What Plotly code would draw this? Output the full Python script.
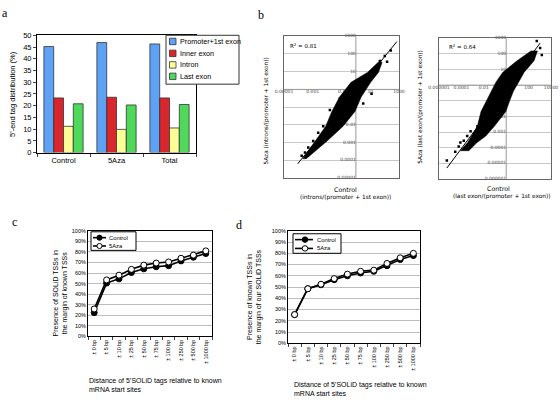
import plotly.graph_objects as go

W, H = 560, 403
def px(x): return x / W
def py(y): return 1 - y / H

# ---------------- Panel a data ----------------
groups = ["Control", "5Aza", "Total"]
segments = ["Promoter+1st exon", "Inner exon", "Intron", "Last exon"]
seg_colors = ["#5ea2f5", "#d9262c", "#fdfd98", "#4fd85a"]
dist_promoter = [45.2, 46.9, 46.3]
dist_inner = [23.3, 23.6, 23.3]
dist_intron = [11.2, 9.9, 10.5]
dist_last = [20.8, 20.3, 20.5]
dist_values = [dist_promoter, dist_inner, dist_intron, dist_last]

# ---------------- Panel b data (log10 values) ----------------
# outline of the dense point cloud (left edge upward, then right edge downward)
intron_cloud_lx = [-3.70, -3.30, -2.87, -2.10, -1.67, -1.14, -0.34, 0.80, 1.52, 1.70,
                   1.82, 1.57, 1.03, 0.37, -0.06, -0.89, -2.00, -2.81, -3.45]
intron_cloud_ly = [-3.91, -3.46, -2.91, -2.08, -1.25, -0.43, 0.40, 0.96, 1.51, 1.62,
                   1.51, 0.96, 0.40, -0.43, -1.25, -2.08, -2.91, -3.46, -3.91]
intron_pts_lx = [2.43, 2.01, 1.67, 2.17, 1.44, -2.97, -3.31, -3.54, -3.77, -3.08, -2.27, -2.62, 0.51, 1.09, -1.81, -1.11]
intron_pts_ly = [2.19, 1.88, 1.60, 1.56, 1.27, -2.91, -3.28, -3.56, -3.74, -3.37, -2.08, -2.45, -0.80, -0.24, -1.16, -0.52]
intron_fit_lx = [-4.05, 2.85]
intron_fit_ly = [-4.20, 2.70]
intron_r2 = "0.81"

last_cloud_lx = [-4.10, -3.46, -3.09, -2.58, -2.25, -1.82, -1.38, -0.92, -0.32, 0.97, 2.21,
                 2.79, 2.49, 1.59, 1.11, 0.65, 0.28, -0.03, -1.06, -1.82, -2.63, -3.34]
last_cloud_ly = [-4.19, -3.69, -3.25, -2.63, -1.69, -1.06, -0.38, 0.19, 0.81, 1.56, 2.19,
                 2.19, 1.56, 0.81, 0.19, -0.38, -1.06, -1.69, -2.63, -3.25, -3.69, -4.19]
last_pts_lx = [2.73, 3.03, 3.18, -3.79, -4.24, -4.55, -5.30, -3.48, -3.18, -4.09, -2.57, -0.75]
last_pts_ly = [2.83, 2.375, 1.92, -3.56, -3.92, -4.25, -4.81, -3.25, -2.94, -3.67, -2.625, -0.85]
last_fit_lx = [-5.30, 3.03]
last_fit_ly = [-5.30, 2.69]
last_r2 = "0.64"

# tick labels of the scatter plots
intron_xticks = [-5, -3, -1, 1, 3]
intron_xtext = ["0.00001", "0.001", "0.1", "10", "1000"]
intron_yticks = [3, 2, 1, -1, -2, -3, -4, -5]
intron_ytext = ["1000", "100", "10", "0.1", "0.01", "0.001", "0.0001", "0.00001"]
last_xticks = [-6, -4, -2, 2, 4]
last_xtext = ["0.000001", "0.0001", "0.01", "100", "10000"]
last_yticks = [3, 2, 1, -1, -2, -3, -4, -5, -6]
last_ytext = ["1000", "100", "10", "0.1", "0.01", "0.001", "0.0001", "0.00001", "0.000001"]

# ---------------- Panels c / d data ----------------
distances = ["± 0 bp", "± 5 bp", "± 10 bp", "± 25 bp", "± 50 bp", "± 75 bp",
             "± 100 bp", "± 250 bp", "± 500 bp", "± 1000 bp"]
c_control = [22.5, 50.5, 54.5, 60.5, 64.0, 66.0, 67.0, 71.5, 75.0, 78.5]
c_5aza = [26.0, 53.5, 58.0, 63.5, 67.5, 69.5, 70.5, 74.0, 77.0, 81.0]
d_control = [25.5, 48.5, 52.0, 56.5, 60.0, 62.5, 64.0, 69.0, 74.5, 78.0]
d_5aza = [25.5, 48.5, 52.5, 57.5, 61.5, 64.0, 65.0, 71.0, 76.0, 80.0]
series_names = ["Control", "5Aza"]

ARIAL = "Liberation Sans, Arial, sans-serif"
NARROW = "Liberation Sans Narrow, Arial Narrow, Liberation Sans, sans-serif"
GOTH = "DejaVu Sans, sans-serif"
SERIF = "Liberation Serif, Times New Roman, serif"

fig = go.Figure()

# ---- panel a bars
for name, col, vals in zip(segments, seg_colors, dist_values):
    fig.add_trace(go.Bar(x=groups, y=vals, name=name, marker_color=col,
                         marker_line=dict(color="#333333", width=0.8),
                         xaxis="x", yaxis="y", showlegend=False))

# ---- scatter panels
def p10(lst):
    return [10 ** v for v in lst]

def add_scatter(ax, ay, xr, yr, xt, xtt, yt, ytt, clx, cly, plx, ply, flx, fly):
    fig.add_trace(go.Scatter(x=p10(xt), y=[1] * len(xt), mode="text", text=xtt,
                             textposition="bottom center",
                             textfont=dict(size=4.5, color="#444", family=GOTH),
                             xaxis=ax, yaxis=ay, showlegend=False, cliponaxis=False, hoverinfo="skip"))
    fig.add_trace(go.Scatter(x=[1] * len(yt), y=p10(yt), mode="text", text=ytt,
                             textposition="middle left",
                             textfont=dict(size=4.5, color="#444", family=GOTH),
                             xaxis=ax, yaxis=ay, showlegend=False, cliponaxis=False, hoverinfo="skip"))
    fig.add_trace(go.Scatter(x=[1, 1], y=[10 ** yr[0], 10 ** yr[1]], mode="lines",
                             line=dict(color="#999999", width=1), xaxis=ax, yaxis=ay,
                             showlegend=False, hoverinfo="skip"))
    fig.add_trace(go.Scatter(x=[10 ** xr[0], 10 ** xr[1]], y=[1, 1], mode="lines",
                             line=dict(color="#999999", width=1), xaxis=ax, yaxis=ay,
                             showlegend=False, hoverinfo="skip"))
    fig.add_trace(go.Scatter(x=p10(clx + clx[:1]), y=p10(cly + cly[:1]), mode="lines",
                             fill="toself", fillcolor="black", line=dict(color="black", width=0.5),
                             xaxis=ax, yaxis=ay, showlegend=False, hoverinfo="skip"))
    fig.add_trace(go.Scatter(x=p10(plx), y=p10(ply), mode="markers",
                             marker=dict(color="black", size=2.5, symbol="square"),
                             xaxis=ax, yaxis=ay, showlegend=False))
    fig.add_trace(go.Scatter(x=p10(flx), y=p10(fly), mode="lines",
                             line=dict(color="black", width=1),
                             xaxis=ax, yaxis=ay, showlegend=False))

add_scatter("x2", "y2", [-5, 3], [-5, 3], intron_xticks, intron_xtext, intron_yticks, intron_ytext,
            intron_cloud_lx, intron_cloud_ly, intron_pts_lx, intron_pts_ly, intron_fit_lx, intron_fit_ly)
add_scatter("x3", "y3", [-6, 4], [-6, 3], last_xticks, last_xtext, last_yticks, last_ytext,
            last_cloud_lx, last_cloud_ly, last_pts_lx, last_pts_ly, last_fit_lx, last_fit_ly)

# ---- panels c / d lines
for ax, ay, ctrl, aza in [("x4", "y4", c_control, c_5aza), ("x5", "y5", d_control, d_5aza)]:
    fig.add_trace(go.Scatter(x=distances, y=ctrl, name=series_names[0], mode="lines+markers",
                             line=dict(color="black", width=1.6),
                             marker=dict(color="black", size=6, line=dict(color="black", width=1)),
                             xaxis=ax, yaxis=ay, showlegend=False, cliponaxis=False))
    fig.add_trace(go.Scatter(x=distances, y=aza, name=series_names[1], mode="lines+markers",
                             line=dict(color="black", width=1.6),
                             marker=dict(color="white", size=6, line=dict(color="black", width=1)),
                             xaxis=ax, yaxis=ay, showlegend=False, cliponaxis=False))

frame = dict(showline=True, linecolor="black", linewidth=1, mirror=True)

layout = dict(
    width=W, height=H, margin=dict(l=0, r=0, t=0, b=0),
    paper_bgcolor="white", plot_bgcolor="white", showlegend=False,
    barmode="group", bargap=0.26, bargroupgap=0,
    font=dict(family=ARIAL, color="black"),
    xaxis=dict(domain=[px(37), px(196)], anchor="y", tickfont=dict(size=7.5, family=ARIAL),
               ticks="outside", ticklen=3, tickson="boundaries", **frame),
    yaxis=dict(domain=[py(152), py(32)], anchor="x", range=[0, 50], dtick=5,
               tickfont=dict(size=7.5, family=ARIAL), ticks="outside", ticklen=3,
               showgrid=False, **frame),
    xaxis2=dict(domain=[px(284), px(399)], anchor="y2", type="log", range=[-5, 3],
                showticklabels=False, showgrid=False, showline=True, mirror=True,
                linecolor="#666666", linewidth=1),
    yaxis2=dict(domain=[py(178), py(33)], anchor="x2", type="log", range=[-5, 3], dtick=1,
                showticklabels=False, showgrid=True, gridcolor="#c8c8c8", gridwidth=1,
                showline=True, mirror=True, linecolor="#666666", linewidth=1),
    xaxis3=dict(domain=[px(439), px(551)], anchor="y3", type="log", range=[-6, 4],
                showticklabels=False, showgrid=False, showline=True, mirror=True,
                linecolor="#666666", linewidth=1),
    yaxis3=dict(domain=[py(179), py(35)], anchor="x3", type="log", range=[-6, 3], dtick=1,
                showticklabels=False, showgrid=True, gridcolor="#c8c8c8", gridwidth=1,
                showline=True, mirror=True, linecolor="#666666", linewidth=1),
    xaxis4=dict(domain=[px(88), px(212)], anchor="y4", range=[-0.5, 9.5], tickangle=-90,
                tickfont=dict(size=5.5, family=NARROW), ticks="outside", ticklen=3,
                tickson="boundaries", **frame),
    yaxis4=dict(domain=[py(340), py(232)], anchor="x4", range=[0, 100], dtick=10, ticksuffix="%",
                tickfont=dict(size=5.5, family=ARIAL), showgrid=True, gridcolor="#bdbdbd",
                ticks="", **frame),
    xaxis5=dict(domain=[px(288), px(420)], anchor="y5", range=[-0.5, 9.5], tickangle=-90,
                tickfont=dict(size=5.5, family=NARROW), ticks="outside", ticklen=3,
                tickson="boundaries", **frame),
    yaxis5=dict(domain=[py(347), py(232)], anchor="x5", range=[0, 100], dtick=10, ticksuffix="%",
                tickfont=dict(size=5.5, family=ARIAL), showgrid=True, gridcolor="#bdbdbd",
                ticks="", **frame),
)
fig.update_layout(**layout)

ann = []
shapes = []
def text(x, y, s, size, family=ARIAL, angle=0, xanchor="center", yanchor="middle", align="center"):
    ann.append(dict(x=px(x), y=py(y), xref="paper", yref="paper", text=s, showarrow=False,
                    font=dict(size=size, family=family, color="black"), textangle=angle,
                    xanchor=xanchor, yanchor=yanchor, align=align))

# panel letters
text(5, 9, "a", 12, SERIF)
text(261, 11, "b", 12, SERIF)
text(14, 223, "c", 12, SERIF)
text(239, 226, "d", 12, SERIF)

# panel a titles and legend
text(13, 92, "5'-end tag distribution (%)", 7.5, ARIAL, angle=-90)
shapes.append(dict(type="rect", xref="paper", yref="paper", x0=px(166), x1=px(239), y0=py(82), y1=py(32),
                   line=dict(color="#333333", width=1), fillcolor="white", layer="above"))
row_y = [38.3, 50.5, 62.3, 74]
for name, col, yy in zip(segments, seg_colors, row_y):
    shapes.append(dict(type="rect", xref="paper", yref="paper", x0=px(169.5), x1=px(176), y0=py(yy + 3.3),
                       y1=py(yy - 3.3), line=dict(color="#333333", width=0.8), fillcolor=col, layer="above"))
    text(177.5, yy, name, 7.2, ARIAL, xanchor="left")

# scatter titles
text(267, 110, "5Aza (introns/(promoter + 1st exon))", 5.8, GOTH, angle=-90)
text(345, 190, "Control", 6.3, GOTH)
text(345, 197.5, "(introns/(promoter + 1st exon))", 5.8, GOTH)
text(288, 42, "R<sup>2</sup> = " + intron_r2, 5.5, GOTH, xanchor="left")
text(421, 105, "5Aza (last exon/(promoter + 1st exon))", 5.8, GOTH, angle=-90)
text(498, 188.5, "Control", 6.3, GOTH)
text(501, 196.5, "(last exon/(promoter + 1st exon))", 5.8, GOTH)
text(447, 43, "R<sup>2</sup> = " + last_r2, 5.5, GOTH, xanchor="left")

# panel c / d axis titles
text(60, 296, "Presence of SOLiD TSSs in<br>the margin of known TSSs", 7, NARROW, angle=-90)
text(87, 389.5, "Distance of 5’SOLiD tags relative to known<br>mRNA start sites", 7, NARROW,
     xanchor="left", align="left")
text(254, 300, "Presence of known TSSs in<br>the margin of our SOLiD TSSs", 7, NARROW, angle=-90)
text(292, 393.5, "Distance of 5’SOLiD tags relative to known<br>mRNA start sites", 7, NARROW,
     xanchor="left", align="left")

def line_legend(bx0, bx1, by0, by1, rows, lx0, lx1, mx, tx, r):
    shapes.append(dict(type="rect", xref="paper", yref="paper", x0=px(bx0), x1=px(bx1), y0=py(by1),
                       y1=py(by0), line=dict(color="black", width=1), fillcolor="white", layer="above"))
    for (name, fill), yy in zip(zip(series_names, ["black", "white"]), rows):
        shapes.append(dict(type="line", xref="paper", yref="paper", x0=px(lx0), x1=px(lx1), y0=py(yy),
                           y1=py(yy), line=dict(color="black", width=1.6), layer="above"))
        shapes.append(dict(type="circle", xref="paper", yref="paper", x0=px(mx - r), x1=px(mx + r),
                           y0=py(yy + r), y1=py(yy - r), line=dict(color="black", width=1),
                           fillcolor=fill, layer="above"))
        text(tx, yy, name, 5.8, ARIAL, xanchor="left")

line_legend(91, 136, 233, 252, [239, 247.5], 93, 106, 99.5, 107, 2.6)
line_legend(293, 341, 235, 255, [241, 250], 295, 313, 305, 315, 2.8)

fig.update_layout(annotations=ann, shapes=shapes)
fig.write_html("out.html", config={"displayModeBar": False},
               post_script="document.body.style.margin='0';document.body.style.overflow='hidden';")
